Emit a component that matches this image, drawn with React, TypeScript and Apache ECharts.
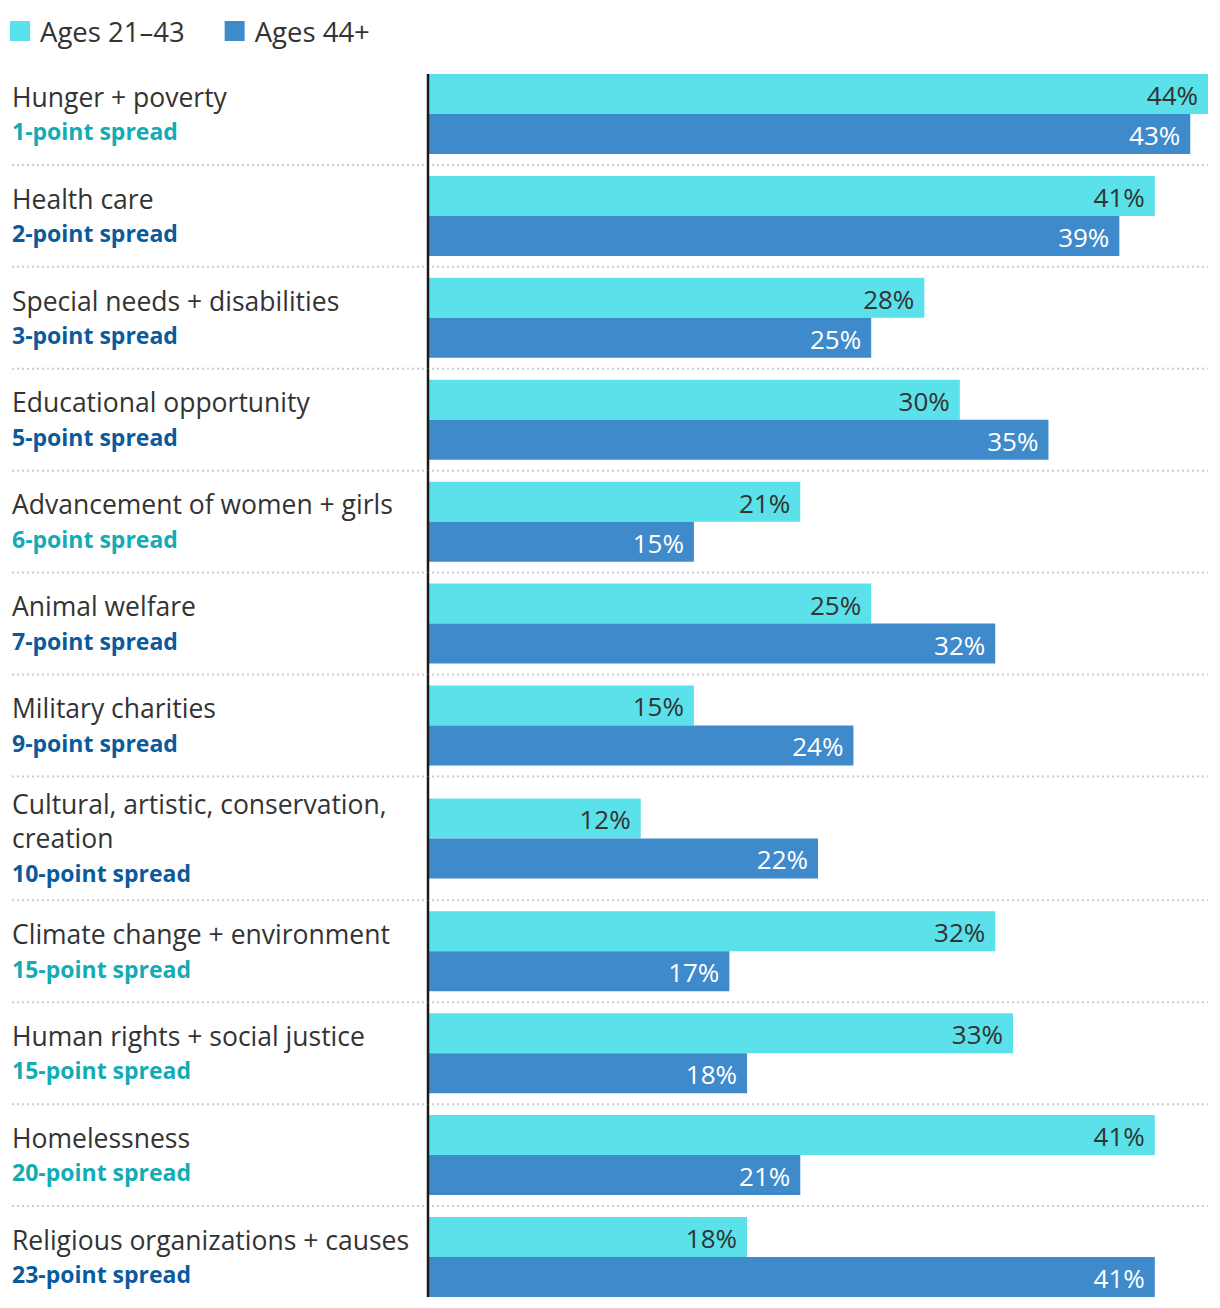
import React, { useEffect, useRef } from "react";
import * as echarts from "echarts";

const categories = [
  "Hunger + poverty",
  "Health care",
  "Special needs + disabilities",
  "Educational opportunity",
  "Advancement of women + girls",
  "Animal welfare",
  "Military charities",
  "Cultural, artistic, conservation,\ncreation",
  "Climate change + environment",
  "Human rights + social justice",
  "Homelessness",
  "Religious organizations + causes",
];
const ages21to43 = [44, 41, 28, 30, 21, 25, 15, 12, 32, 33, 41, 18];
const ages44plus = [43, 39, 25, 35, 15, 32, 24, 22, 17, 18, 21, 41];
const spreadColorKey = ["teal", "navy", "navy", "navy", "teal", "navy", "navy", "navy", "teal", "teal", "teal", "navy"];
const seriesNames = ["Ages 21–43", "Ages 44+"];

const C_YOUNG = "#5ae1e9";
const C_OLD = "#3f8acb";
const C_TEAL = "#13abb5";
const C_NAVY = "#0b5a9c";
const C_TEXT = "#333333";
const FONT = "'Open Sans', 'Noto Sans', sans-serif";

const LABEL_X = 12;
const BAR_H = 40;
const LINE_H = 34.5;

export default function App() {
  const ref = useRef<HTMLDivElement>(null);
  useEffect(() => {
    if (!ref.current) return;
    const chart = echarts.init(ref.current, undefined, { renderer: "svg" });

    const lineCounts = categories.map((c) => c.split("\n").length + 1);
    const heights = lineCounts.map((n) => (n > 2 ? 124 : 102));
    const offsets: number[] = [];
    let acc = 0;
    heights.forEach((h) => {
      offsets.push(acc);
      acc += h;
    });
    const total = acc;
    const last = categories.length - 1;

    const data = categories.map((_, i) => [ages21to43[i], ages44plus[i], i, offsets[i] + heights[i] / 2]);

    const renderItem = (params: any, api: any) => {
      const a = api.value(0) as number;
      const b = api.value(1) as number;
      const i = api.value(2) as number;
      const top = offsets[i];
      const h = heights[i];
      const center = top + h / 2;
      const [x0, cy] = api.coord([0, center]);
      const xa = api.coord([a, center])[0];
      const xb = api.coord([b, center])[0];
      const yTop = api.coord([0, top])[1];
      const yBot = api.coord([0, top + h])[1];
      const cs = params.coordSys;
      const right = cs.x + cs.width;
      const children: any[] = [];

      children.push({
        type: "rect",
        shape: { x: x0, y: cy - BAR_H, width: xa - x0, height: BAR_H },
        style: { fill: C_YOUNG },
      });
      children.push({
        type: "rect",
        shape: { x: x0, y: cy, width: xb - x0, height: BAR_H },
        style: { fill: C_OLD },
      });
      children.push({
        type: "text",
        style: {
          x: xa - 10, y: cy - BAR_H / 2 + 1, text: a + "%", align: "right", verticalAlign: "middle",
          fill: C_TEXT, fontSize: 26, fontFamily: FONT,
        },
      });
      children.push({
        type: "text",
        style: {
          x: xb - 10, y: cy + BAR_H / 2 + 1, text: b + "%", align: "right", verticalAlign: "middle",
          fill: "#ffffff", fontSize: 26, fontFamily: FONT,
        },
      });

      const lines = categories[i].split("\n");
      const n = lines.length + 1;
      const firstY = cy - ((n - 1) * LINE_H) / 2;
      lines.forEach((ln, k) => {
        children.push({
          type: "text",
          style: {
            x: LABEL_X, y: firstY + k * LINE_H, text: ln, align: "left", verticalAlign: "middle",
            fill: C_TEXT, fontSize: 26.5, fontFamily: FONT,
          },
        });
      });
      const spread = Math.abs(a - b);
      children.push({
        type: "text",
        style: {
          x: LABEL_X, y: firstY + lines.length * LINE_H, text: spread + "-point spread", align: "left",
          verticalAlign: "middle", fill: spreadColorKey[i] === "teal" ? C_TEAL : C_NAVY,
          fontSize: 23, fontWeight: "bold", fontFamily: FONT,
        },
      });

      if (i < last) {
        children.push({
          type: "line",
          shape: { x1: LABEL_X, y1: yBot, x2: right, y2: yBot },
          style: { stroke: "#cccccc", lineWidth: 2, lineDash: [2, 3] },
        });
      }
      children.push({
        type: "line",
        shape: { x1: x0, y1: i === 0 ? cy - BAR_H : yTop, x2: x0, y2: i === last ? cy + BAR_H : yBot },
        style: { stroke: "#1a1a1a", lineWidth: 2.5 },
      });

      return { type: "group", children };
    };

    chart.setOption({
      animation: false,
      legend: {
        left: 5,
        top: 12,
        itemWidth: 20,
        itemHeight: 20,
        itemGap: 40,
        icon: "rect",
        data: seriesNames,
        textStyle: { fontSize: 27.5, fontFamily: FONT, color: C_TEXT, padding: [0, 0, 0, 5] },
        selectedMode: false,
      },
      grid: { left: 428, right: 12, top: 63, height: total },
      xAxis: { type: "value", min: 0, max: 44, show: false },
      yAxis: { type: "value", min: 0, max: total, inverse: true, show: false },
      series: [
        { type: "bar", name: seriesNames[0], data: [], itemStyle: { color: C_YOUNG } },
        { type: "bar", name: seriesNames[1], data: [], itemStyle: { color: C_OLD } },
        {
          type: "custom",
          name: "rows",
          renderItem,
          data,
          encode: { x: [0, 1], y: 3 },
          clip: false,
          silent: true,
        },
      ],
    });
    return () => chart.dispose();
  }, []);
  return (
    <div
      ref={ref}
      style={{ position: "absolute", left: 0, top: 0, width: 1220, height: 1308, background: "#ffffff" }}
    />
  );
}
